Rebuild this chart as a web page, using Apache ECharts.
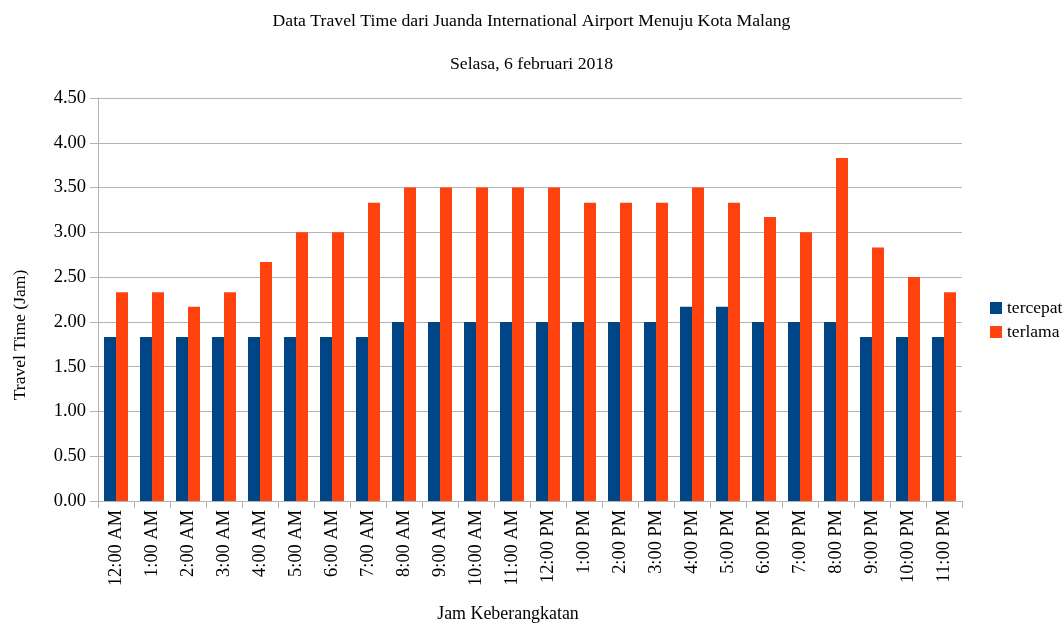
<!DOCTYPE html>
<html>
<head>
<meta charset="utf-8">
<script src="https://cdn.jsdelivr.net/npm/echarts@6/dist/echarts.min.js"></script>
<style>
  html, body { margin: 0; padding: 0; background: #fff; }
  #chart { width: 1063px; height: 627px; }
</style>
</head>
<body>
<div id="chart"></div>
<script>
// data
var jam = ['12:00 AM', '1:00 AM', '2:00 AM', '3:00 AM', '4:00 AM', '5:00 AM', '6:00 AM', '7:00 AM',
    '8:00 AM', '9:00 AM', '10:00 AM', '11:00 AM', '12:00 PM', '1:00 PM', '2:00 PM', '3:00 PM',
    '4:00 PM', '5:00 PM', '6:00 PM', '7:00 PM', '8:00 PM', '9:00 PM', '10:00 PM', '11:00 PM'];
var tercepat = [1.83, 1.83, 1.83, 1.83, 1.83, 1.83, 1.83, 1.83,
    2.00, 2.00, 2.00, 2.00, 2.00, 2.00, 2.00, 2.00,
    2.17, 2.17, 2.00, 2.00, 2.00, 1.83, 1.83, 1.83];
var terlama = [2.33, 2.33, 2.17, 2.33, 2.67, 3.00, 3.00, 3.33,
    3.50, 3.50, 3.50, 3.50, 3.50, 3.33, 3.33, 3.33,
    3.50, 3.33, 3.17, 3.00, 3.83, 2.83, 2.50, 2.33];

var font = '"Liberation Serif", "DejaVu Serif", serif';
var grey = '#b3b3b3';

var myChart = echarts.init(document.getElementById('chart'));
var option = {
    animation: false,
    textStyle: { fontFamily: font, color: '#000' },
    title: [
        {
            text: 'Data Travel Time dari Juanda International Airport Menuju Kota Malang',
            left: 'center', top: 7,
            textStyle: { fontFamily: font, fontSize: 17.7, fontWeight: 'normal', color: '#000' }
        },
        {
            text: 'Selasa, 6 februari 2018',
            left: 'center', top: 50,
            textStyle: { fontFamily: font, fontSize: 17.7, fontWeight: 'normal', color: '#000' }
        }
    ],
    legend: {
        orient: 'vertical',
        left: 985, top: 294,
        itemWidth: 12, itemHeight: 12, itemGap: 6,
        icon: 'rect',
        textStyle: { fontFamily: font, fontSize: 17.5, color: '#000' },
        data: ['tercepat', 'terlama']
    },
    grid: { left: 98, right: 101, top: 98, bottom: 126, containLabel: false },
    xAxis: {
        type: 'category',
        data: jam,
        axisLine: { lineStyle: { color: grey } },
        axisTick: { show: true, length: 7, lineStyle: { color: grey } },
        axisLabel: { rotate: 90, fontFamily: font, fontSize: 18.4, color: '#000', margin: 9 },
        splitLine: { show: false }
    },
    yAxis: {
        type: 'value',
        min: 0, max: 4.5, interval: 0.5,
        axisLine: { show: true, lineStyle: { color: grey } },
        axisTick: { show: true, length: 8, lineStyle: { color: grey } },
        axisLabel: {
            fontFamily: font, fontSize: 18.5, color: '#000', margin: 12,
            formatter: function (v) { return v.toFixed(2); }
        },
        splitLine: { lineStyle: { color: grey } }
    },
    graphic: [
        {
            type: 'text', x: 20, y: 335, rotation: Math.PI / 2,
            style: { text: 'Travel Time (Jam)', font: '17.6px ' + font, fill: '#000', align: 'center', verticalAlign: 'middle' }
        },
        {
            type: 'text', x: 508, y: 614,
            style: { text: 'Jam Keberangkatan', font: '17.9px ' + font, fill: '#000', align: 'center', verticalAlign: 'middle' }
        }
    ],
    series: [
        {
            name: 'tercepat', type: 'bar', data: tercepat,
            barWidth: 12, barGap: '0%',
            itemStyle: { color: '#004586' }
        },
        {
            name: 'terlama', type: 'bar', data: terlama,
            barWidth: 12, barGap: '0%',
            itemStyle: { color: '#ff420e' }
        }
    ]
};
myChart.setOption(option);
</script>
</body>
</html>
